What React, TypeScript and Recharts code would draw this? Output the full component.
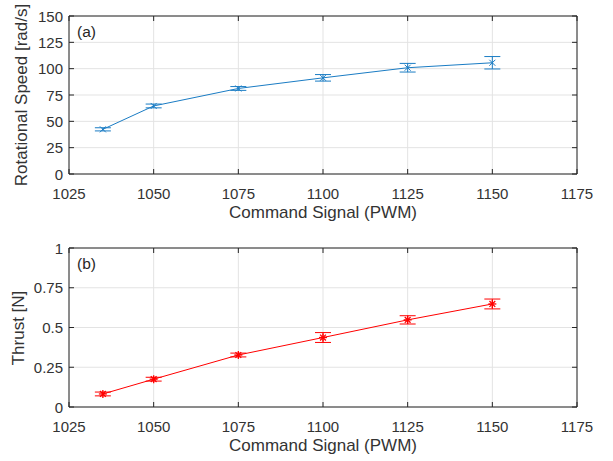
import { CartesianGrid, ComposedChart, ErrorBar, Line, ReferenceArea, XAxis, YAxis } from "recharts";

const pwm = [1035, 1050, 1075, 1100, 1125, 1150];
const speed = [42.4, 64.6, 81.2, 91.3, 100.9, 105.6];
const speedErr = [1.5, 1.8, 1.8, 3.1, 4.1, 5.9];
const thrust = [0.082, 0.175, 0.327, 0.437, 0.548, 0.648];
const thrustErr = [0.012, 0.012, 0.012, 0.031, 0.026, 0.031];

const xTicks = [1025, 1050, 1075, 1100, 1125, 1150, 1175];
const speedTicks = [0, 25, 50, 75, 100, 125, 150];
const thrustTicks = [0, 0.25, 0.5, 0.75, 1];

const speedData = pwm.map((p, i) => ({ pwm: p, v: speed[i], e: speedErr[i] }));
const thrustData = pwm.map((p, i) => ({ pwm: p, v: thrust[i], e: thrustErr[i] }));

const FONT = "'Liberation Sans', Arial, sans-serif";
const INK = "#333333";
const BLUE = "#1a7cc4";
const RED = "#FF0000";
const W = 613;
const LEFT = 69;
const RIGHT = 577;

function XTick({ x, y, payload, top }: any) {
  return (
    <g>
      <line x1={x} x2={x} y1={y} y2={y - 5} stroke="#262626" />
      <line x1={x} x2={x} y1={top} y2={top + 5} stroke="#262626" />
      <text x={x} y={y + 19} textAnchor="middle" dominantBaseline="central" fill={INK} fontSize={15} fontFamily={FONT}>
        {payload.value}
      </text>
    </g>
  );
}

function YTick({ x, y, payload }: any) {
  return (
    <g>
      <line x1={LEFT} x2={LEFT + 5} y1={y} y2={y} stroke="#262626" />
      <line x1={RIGHT - 5} x2={RIGHT} y1={y} y2={y} stroke="#262626" />
      <text x={x - 6} y={y} textAnchor="end" dominantBaseline="central" fill={INK} fontSize={15} fontFamily={FONT}>
        {payload.value}
      </text>
    </g>
  );
}

function Cross({ cx, cy }: any) {
  const r = 3;
  return (
    <g stroke={BLUE} strokeWidth={1}>
      <line x1={cx - r} y1={cy - r} x2={cx + r} y2={cy + r} />
      <line x1={cx - r} y1={cy + r} x2={cx + r} y2={cy - r} />
    </g>
  );
}

function Star({ cx, cy }: any) {
  const r = 4;
  const d = 2.9;
  return (
    <g stroke={RED} strokeWidth={1.3}>
      <line x1={cx - r} y1={cy} x2={cx + r} y2={cy} />
      <line x1={cx} y1={cy - r} x2={cx} y2={cy + r} />
      <line x1={cx - d} y1={cy - d} x2={cx + d} y2={cy + d} />
      <line x1={cx - d} y1={cy + d} x2={cx + d} y2={cy - d} />
    </g>
  );
}

function Panel({
  data,
  yTicks,
  yMax,
  color,
  dot,
  height,
  top,
  xHeight,
  yLabel,
  yLabelX,
  tag,
}: any) {
  const plotBottom = height - xHeight;
  return (
    <div style={{ position: "relative", width: W, height }}>
      <ComposedChart width={W} height={height} data={data} margin={{ top, right: W - RIGHT, bottom: 0, left: 0 }}>
        <CartesianGrid stroke="#e3e3e3" />
        <XAxis
          dataKey="pwm"
          type="number"
          domain={[1025, 1175]}
          ticks={xTicks}
          height={xHeight}
          tickSize={0}
          tickMargin={0}
          tickLine={false}
          axisLine={false}
          tick={<XTick top={top} />}
          interval={0}
        />
        <YAxis
          type="number"
          domain={[0, yMax]}
          ticks={yTicks}
          width={LEFT}
          tickSize={0}
          tickMargin={0}
          tickLine={false}
          axisLine={false}
          tick={<YTick />}
          interval={0}
        />
        <ReferenceArea x1={1025} x2={1175} y1={0} y2={yMax} fill="none" stroke="#262626" strokeWidth={1} ifOverflow="visible" />
        <Line dataKey="v" stroke={color} strokeWidth={1} dot={dot} isAnimationActive={false}>
          <ErrorBar dataKey="e" width={8} stroke={color} strokeWidth={1} direction="y" isAnimationActive={false} />
        </Line>
      </ComposedChart>
      <div
        style={{
          position: "absolute",
          left: LEFT + 8,
          top: top + 7,
          fontSize: 15.5,
          fontFamily: FONT,
          color: "#262626",
        }}
      >
        {tag}
      </div>
      <div
        style={{
          position: "absolute",
          left: yLabelX,
          top: (top + plotBottom) / 2,
          transform: "translate(-50%, -50%) rotate(-90deg)",
          whiteSpace: "nowrap",
          fontSize: 17,
          fontFamily: FONT,
          color: INK,
        }}
      >
        {yLabel}
      </div>
      <div
        style={{
          position: "absolute",
          left: (LEFT + RIGHT) / 2,
          top: plotBottom + 39,
          transform: "translate(-50%, -50%)",
          whiteSpace: "nowrap",
          fontSize: 17,
          fontFamily: FONT,
          color: INK,
        }}
      >
        Command Signal (PWM)
      </div>
    </div>
  );
}

export default function App() {
  return (
    <div style={{ position: "absolute", left: 0, top: 0, width: W, height: 461, background: "#fff" }}>
      <Panel
        data={speedData}
        yTicks={speedTicks}
        yMax={150}
        color={BLUE}
        dot={<Cross />}
        height={230}
        top={16}
        xHeight={56}
        yLabel="Rotational Speed [rad/s]"
        yLabelX={22}
        tag="(a)"
      />
      <Panel
        data={thrustData}
        yTicks={thrustTicks}
        yMax={1}
        color={RED}
        dot={<Star />}
        height={231}
        top={18}
        xHeight={54}
        yLabel="Thrust [N]"
        yLabelX={19}
        tag="(b)"
      />
    </div>
  );
}
